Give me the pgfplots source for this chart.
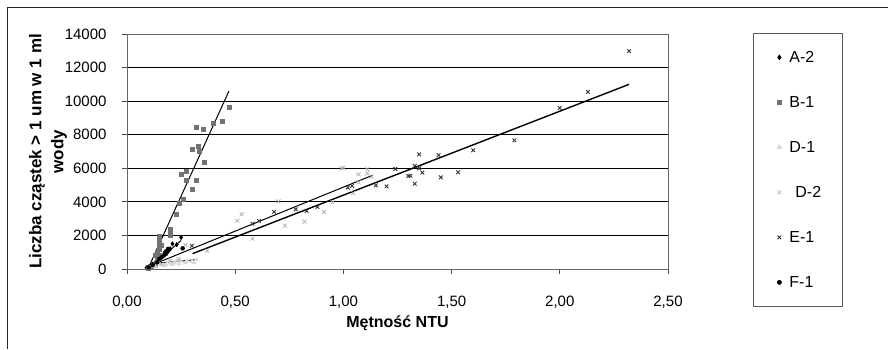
\documentclass[border=0pt]{standalone}
\usepackage{pgfplots}
\pgfplotsset{compat=1.18}
\usepackage{fontspec}
\setmainfont{Liberation Sans}
\definecolor{bgray}{gray}{0.45}
\definecolor{egray}{gray}{0.2}
\definecolor{dtwo}{gray}{0.68}
\definecolor{done}{gray}{0.85}
\pgfplotsset{lgmark/.style={legend image code/.code={\path[draw=none,fill=none] (0pt,-2pt) rectangle (30pt,2pt); \draw[##1] plot coordinates {(26pt,0pt)};}}}
\begin{document}
\begin{tikzpicture}[x=1pt,y=1pt]
\path[use as bounding box] (0,0) rectangle (888,349);
\draw[line width=1pt,black!85] (7,0) -- (7,341) -- (888,341);
\begin{axis}[
  at={(127pt,80pt)}, anchor=south west,
  scale only axis, width=541pt, height=235pt,
  xmin=0, xmax=2.5, ymin=0, ymax=14000,
  xtick={0,0.5,1,1.5,2,2.5},
  ytick={0,2000,4000,6000,8000,10000,12000,14000},
  ymajorgrids, major grid style={black, line width=0.8pt},
  axis line style={gray!80!black, line width=0.9pt},
  tick style={gray!60!black, line width=0.8pt},
  tick align=outside, major tick length=5pt,
  xtick pos=bottom, ytick pos=left,
  /pgf/number format/assume math mode=true,
  /pgf/number format/1000 sep={},
  scaled y ticks=false,
  tick label style={font=\fontsize{15}{18}\selectfont},
  xticklabel style={/pgf/number format/fixed, /pgf/number format/fixed zerofill, /pgf/number format/precision=2, /pgf/number format/use comma, anchor=center, yshift=-28pt},
  yticklabel style={anchor=east, xshift=-12pt},
  xlabel={\textbf{Mętność NTU}},
  xlabel style={font=\fontsize{16}{19}\selectfont, at={(axis description cs:0.5,-0.23)}, anchor=center},
  ylabel={\textbf{Liczba cząstek > 1 um w 1 ml}\\\textbf{wody}},
  ylabel style={font=\fontsize{17}{22}\selectfont, align=center, at={(axis description cs:-0.1460,0.5)}, anchor=center},
  legend style={at={(1.1571,1.0043)}, anchor=north west, draw=gray!70!black, line width=0.8pt,
    font=\fontsize{16}{18}\selectfont, inner xsep=0pt, inner ysep=1.5pt, row sep=0pt,
    nodes={inner sep=0pt, minimum height=45pt}},
  legend cell align=left,
  clip=false,
]
% A-2
\addplot[only marks, mark=diamond*, mark size=2.2pt, color=black, lgmark] coordinates {
(0.09,80)(0.10,120)(0.11,200)(0.12,300)(0.13,350)(0.14,500)(0.16,700)(0.18,1000)(0.20,1200)(0.21,1500)(0.23,1450)(0.25,1880)
};
% B-1
\addplot[only marks, mark=square*, mark size=2pt, color=bgray, lgmark] coordinates {
(0.10,50)(0.11,100)(0.12,200)(0.13,300)(0.14,500)(0.13,800)(0.14,600)(0.14,1000)(0.15,800)(0.15,1200)(0.15,1500)(0.15,1800)(0.15,1950)(0.16,1400)(0.20,2000)(0.20,2200)(0.20,2400)
(0.229,3270)(0.24,3950)(0.262,4170)(0.252,5660)(0.272,5840)(0.272,5320)(0.30,4770)(0.322,5320)(0.30,7150)(0.331,7310)(0.332,6990)(0.359,6360)(0.322,8460)(0.351,8300)(0.40,8700)(0.439,8780)(0.471,9620)
};
% D-1
\addplot[only marks, mark=triangle*, mark size=2.5pt, color=done, lgmark] coordinates {
(0.13,150)(0.15,300)(0.17,200)(0.18,250)(0.20,350)(0.21,280)(0.22,400)(0.24,300)(0.25,450)(0.27,380)(0.28,500)(0.30,450)(0.31,380)(0.32,550)(0.19,420)(0.23,520)
};
% D-2
\addplot[only marks, mark=x, mark size=2.8pt, color=dtwo, line width=0.7pt, lgmark] coordinates {
(0.16,300)(0.20,500)(0.24,600)(0.27,1430)(0.37,1090)(0.51,2880)(0.53,3260)(0.58,1810)(0.70,4030)(0.73,2580)(0.82,2820)(0.91,3400)(0.95,3970)(0.99,6000)(1.00,6030)(1.045,4530)(1.07,5640)(1.07,5160)(1.11,5940)(1.11,5700)(1.13,5500)
};
% E-1
\addplot[only marks, mark=x, mark size=2.6pt, color=egray, line width=0.9pt, lgmark] coordinates {
(0.30,1380)(0.58,2700)(0.61,2860)(0.68,3400)(0.78,3560)(0.83,3460)(0.88,3700)(1.02,4850)(1.04,4950)(1.15,4980)(1.20,4920)(1.24,5960)(1.30,5540)(1.31,5560)(1.33,6140)(1.33,5080)(1.35,6000)(1.35,6830)(1.365,5740)(1.44,6780)(1.45,5460)(1.53,5760)(1.60,7070)(1.79,7665)(2.00,9590)(2.13,10550)(2.32,12980)
};
% F-1
\addplot[only marks, mark=*, mark size=2pt, color=black, lgmark] coordinates {
(0.10,100)(0.12,250)(0.14,400)(0.15,600)(0.16,700)(0.17,800)(0.175,950)(0.18,900)(0.18,1050)(0.185,1000)(0.19,1100)(0.19,1200)(0.257,1230)
};
\legend{\makebox[59pt][l]{\hspace{6pt}A-2},\makebox[59pt][l]{\hspace{6pt}B-1},\makebox[59pt][l]{\hspace{6pt}D-1},\makebox[59pt][l]{\hspace{12pt}D-2},\makebox[59pt][l]{\hspace{6pt}E-1},\makebox[59pt][l]{\hspace{6pt}F-1}}
% trendlines
\addplot[black, line width=1pt, forget plot] coordinates {(0.098,40)(0.471,10600)};
\addplot[black, line width=1pt, forget plot] coordinates {(0.12,264)(1.134,5580)};
\addplot[black, line width=1.4pt, forget plot] coordinates {(0.303,915)(2.32,11000)};
\addplot[black, line width=1pt, forget plot] coordinates {(0.11,130)(0.25,1700)};
\addplot[black, line width=1pt, forget plot] coordinates {(0.10,100)(0.20,1150)};
\addplot[black, line width=1pt, forget plot] coordinates {(0.12,330)(0.325,560)};
\end{axis}
\end{tikzpicture}
\end{document}
